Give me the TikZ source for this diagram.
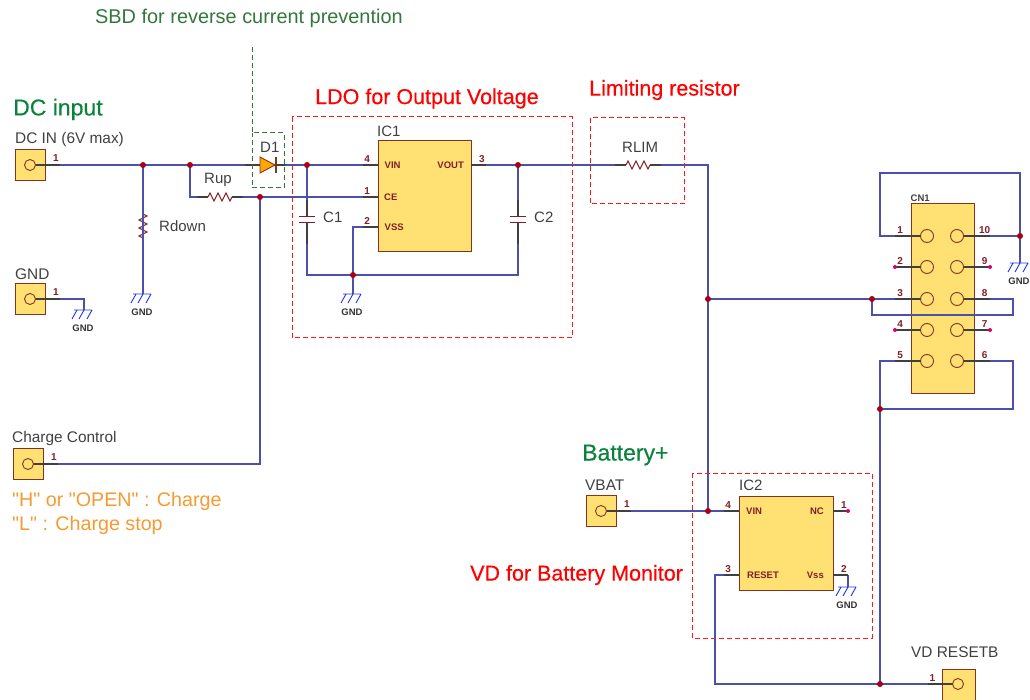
\documentclass[tikz,border=0pt]{standalone}
\usepackage{fontspec}
\setmainfont{Liberation Sans}
\newfontfamily\notefont{Liberation Sans}
\newfontfamily\titlefont[FakeBold=0.35]{Liberation Sans}
\usetikzlibrary{calc}
\definecolor{wireblue}{RGB}{75,80,170}
\definecolor{gndblue}{RGB}{30,50,240}
\definecolor{partfill}{RGB}{255,225,115}
\definecolor{partedge}{RGB}{135,50,30}
\definecolor{dotred}{RGB}{170,0,20}
\definecolor{pinred}{RGB}{130,30,40}
\definecolor{nopin}{RGB}{215,0,110}
\definecolor{titlegreen}{RGB}{10,130,60}
\definecolor{notegreen}{RGB}{50,120,60}
\definecolor{noteorange}{RGB}{245,155,50}
\newcommand{\fs}[1]{\fontsize{#1}{#1}\selectfont}
\tikzset{
  gndpic/.pic={
    \coordinate (-top) at (0,0);
    \draw[gndblue,line width=.9pt] (-10,0) -- (8,0) (-7,0) -- (-12,9) (0,0) -- (-5,9) (8,0) -- (3,9);
    \node[gndtext] (-lbl) at (-1,18) {GND};
  },
  respic/.pic={
    \coordinate (-a) at (-23,0);
    \coordinate (-b) at (23,0);
    \draw[stub] (-23,0) -- (-12,0) (12,0) -- (23,0);
    \draw[pinred,line width=1pt] (-12,0) -- (-10,-4) -- (-6,4) -- (-2,-4) -- (2,4) -- (6,-4) -- (10,4) -- (12,0);
  },
  cappic/.pic={
    \coordinate (-a) at (0,-20);
    \coordinate (-b) at (0,24);
    \draw[stub] (0,-20) -- (0,-3) (0,3) -- (0,24);
    \draw[pinred,line width=1pt] (-8,-3) -- (8,-3) (-8,3) -- (8,3);
  },
  portpic/.pic={
    \coordinate (-end) at (30,0);
    \draw[part] (-15,-15.5) rectangle (15,15.5);
    \draw[partedge,line width=.9pt] (0,0) circle (5.5);
    \draw[stub] (5.5,0) -- (30,0);
    \node[pinnum] (-num) at (26,-7) {1};
  },
}
\begin{document}
\begin{tikzpicture}[x=1pt,y=-1pt,font=\fs{15.4},text=black!75]
  \tikzstyle{wire}=[wireblue,line width=1.1pt]
  \tikzstyle{stub}=[black!75,line width=1.1pt]
  \tikzstyle{part}=[draw=partedge,fill=partfill,line width=1pt]
  \tikzstyle{pinnum}=[text=pinred,font=\fs{10}\bfseries,inner sep=0pt]
  \tikzstyle{pinname}=[text=pinred,font=\fs{9.5}\bfseries,inner sep=0pt]
  \tikzstyle{gndtext}=[text=black!80,font=\fs{9.5}\bfseries,inner sep=0pt]
  \tikzstyle{lbl}=[anchor=west,inner sep=0pt]
  \tikzstyle{reddash}=[draw=red!90,line width=1pt,dash pattern=on 5pt off 3pt]
  \tikzstyle{greendash}=[draw=notegreen,line width=1pt,dash pattern=on 5pt off 3pt]
  \tikzstyle{redtitle}=[lbl,text=red,font=\fs{21.5}\titlefont]
  \tikzstyle{greentitle}=[lbl,text=titlegreen,font=\fs{23}\titlefont]

  \useasboundingbox (0,0) rectangle (1030,700);

  % parts
  \pic (dcin) at (30,165) {portpic};
  \pic (gndin) at (30,299) {portpic};
  \pic (chg) at (28,464) {portpic};
  \pic (vbat) at (601,511) {portpic};
  \draw[part] (942,669) rectangle (975,700);
  \draw[partedge,line width=.9pt] (958,684) circle (5.5);
  \node[part,minimum width=93pt,minimum height=111pt,inner sep=0pt] (ic1) at (424.5,196.5) {};
  \node[part,minimum width=94pt,minimum height=94pt,inner sep=0pt] (ic2) at (786,543) {};
  \node[part,minimum width=63pt,minimum height=189pt,inner sep=0pt] (cn1) at (942.5,298.5) {};

  \pic (rup) at (220,197) {respic};
  \pic[rotate=90] (rdown) at (143,226) {respic};
  \pic (rlim) at (638,165) {respic};
  \pic (c1) at (307,220) {cappic};
  \pic (c2) at (518,220) {cappic};
  \pic (g1) at (84,310) {gndpic};
  \pic (g2) at (143,294) {gndpic};
  \pic (g3) at (353,294) {gndpic};
  \pic (g4) at (848,587) {gndpic};
  \pic (g5) at (1020,263) {gndpic};

  % junctions and bends
  \coordinate (j1) at (143,165);
  \coordinate (j2) at (190,165);
  \coordinate (j3) at (260,197);
  \coordinate (j4) at (307,165);
  \coordinate (j5) at (353,275);
  \coordinate (j6) at (518,165);
  \coordinate (j7) at (708,299);
  \coordinate (j8) at (708,511);
  \coordinate (j9) at (872,299);
  \coordinate (j10) at (880,409);
  \coordinate (j11) at (880,684);
  \coordinate (j12) at (1020,236);
  \coordinate (d1a) at (245,165);
  \coordinate (d1b) at (285,165);
  \coordinate (vin1) at (363,165);
  \coordinate (ce1) at (363,197);
  \coordinate (vss1) at (363,227);
  \coordinate (vout1) at (486,165);
  \coordinate (vin2) at (724,511);
  \coordinate (vss2) at (848,575);
  \coordinate (rst2) at (724,575);
  \coordinate (rstport) at (928,684);
  \coordinate (p1) at (896,236);
  \coordinate (p3) at (896,299);
  \coordinate (p5) at (896,361);
  \coordinate (p6) at (990,361);
  \coordinate (p8) at (990,299);
  \coordinate (p10) at (990,236);

  % wires
  \draw[wire] (dcin-end) -- (d1a);
  \draw[wire] (d1b) -- (vin1);
  \draw[wire] (j1) -- (rdown-a);
  \draw[wire] (rdown-b) -- (g2-top);
  \draw[wire] (j2) |- (rup-a);
  \draw[wire] (rup-b) -- (ce1);
  \draw[wire] (j3) |- (chg-end);
  \draw[wire] (gndin-end) -| (g1-top);
  \draw[wire] (j4) -- (c1-a);
  \draw[wire] (c1-b) |- (j5);
  \draw[wire] (vss1) -| (g3-top);
  \draw[wire] (j5) -| (c2-b);
  \draw[wire] (j6) -- (c2-a);
  \draw[wire] (vout1) -- (rlim-a);
  \draw[wire] (rlim-b) -| (j8);
  \draw[wire] (vbat-end) -- (vin2);
  \draw[wire] (j7) -- (p3);
  \draw[wire] (p8) -- (1013,299) -- (1013,315) -| (j9);
  \draw[wire] (p1) -| (880,173) -| (j12);
  \draw[wire] (p10) -- (j12) -- (g5-top);
  \draw[wire] (p5) -| (j11);
  \draw[wire] (p6) -- (1013,361) |- (j10);
  \draw[wire] (rst2) -| (715,684) -- (rstport);
  \draw[wire] (vss2) -- (g4-top);

  % pin stubs on the parts
  \foreach \xa/\xb/\yy/\num in {378/363/165/4,378/363/197/1,378/363/227/2,471/486/165/3,
                                739/724/511/4,833/848/511/1,739/724/575/3,833/848/575/2}
    \draw[stub] (\xa,\yy) -- (\xb,\yy) node[pinnum,pos=.72,above=1.5pt] {\num};
  \draw[stub] (952.5,684) -- (928,684) node[pinnum,pos=.82,above=1.5pt] {1};
  \foreach \yy/\ln/\rn in {236/1/10,267/2/9,299/3/8,330/4/7,361/5/6} {
    \draw[partedge,line width=.9pt] (927,\yy) circle (6.5) (957,\yy) circle (6.5);
    \draw[stub] (920.5,\yy) -- (895,\yy) node[pinnum,pos=.8,above=1.5pt] {\ln};
    \draw[stub] (963.5,\yy) -- (990,\yy) node[pinnum,pos=.8,above=1.5pt] {\rn};
  }
  \foreach \px/\py in {895/267,895/330,990/267,990/330,848/511}
    \fill[nopin] (\px,\py) circle (2);
  \foreach \j in {j1,j2,j3,j4,j5,j6,j7,j8,j9,j10,j11,j12}
    \fill[dotred] (\j) circle (3);

  % diode
  \draw[stub] (d1a) -- (d1b);
  \draw[draw=partedge,fill=orange!70!yellow,line width=.9pt] (260,157) -- (260,173) -- (275,165) -- cycle;
  \draw[partedge,line width=1.1pt] (276,157) -- (276,173);

  % pin names
  \node[pinname,anchor=west] (n1) at (384.5,165) {VIN};
  \node[pinname,anchor=west] (n2) at (384,197) {CE};
  \node[pinname,anchor=west] (n3) at (384.5,227) {VSS};
  \node[pinname,anchor=east] (n4) at (464,165) {VOUT};
  \node[pinname,anchor=west] (n5) at (746,511) {VIN};
  \node[pinname,anchor=east] (n6) at (824,511) {NC};
  \node[pinname,anchor=west] (n7) at (747,575) {RESET};
  \node[pinname,anchor=east] (n8) at (824,575) {Vss};

  % labelled boxes
  \draw[reddash] (292,117) rectangle (572,338);
  \draw[reddash] (590,118) rectangle (684,204);
  \draw[reddash] (692,473) rectangle (872,638);
  \draw[greendash] (252,47) -- (252,133) -- (284,133) -- (284,188) -- (252,188) -- (252,133);

  % labels
  \node[lbl,text=notegreen,font=\fs{19.9}] (sbd) at (95,18) {SBD for reverse current prevention};
  \node[greentitle] (dctitle) at (13,109.5) {DC input};
  \node[lbl] (dclbl) at (15,140) {DC IN (6V max)};
  \node[lbl] (gndlbl) at (15,274) {GND};
  \node[lbl] (chglbl) at (12,439) {Charge Control};
  \node[lbl,font=\fs{15}] (rdlbl) at (159,226.5) {Rdown};
  \node[lbl,font=\fs{15}] (rulbl) at (204,180) {Rup};
  \node[lbl,font=\fs{15}] (d1lbl) at (260,147.5) {D1};
  \node[lbl,font=\fs{15}] (c1lbl) at (323,217.5) {C1};
  \node[lbl,font=\fs{15}] (c2lbl) at (534,217.5) {C2};
  \node[lbl,font=\fs{15}] (ic1lbl) at (377,131.5) {IC1};
  \node[lbl,font=\fs{15}] (ic2lbl) at (739,485.5) {IC2};
  \node[lbl,font=\fs{15}] (rllbl) at (622,147.5) {RLIM};
  \node[lbl] (vblbl) at (585,485.5) {VBAT};
  \node[lbl] (vrlbl) at (911,652.5) {VD RESETB};
  \node[lbl,font=\fs{9.5}\bfseries] (cnlbl) at (910.5,198) {CN1};
  \node[redtitle] (ldo) at (315,98.5) {LDO for Output Voltage};
  \node[redtitle] (lim) at (589,90) {Limiting resistor};
  \node[redtitle] (vd) at (470,575) {VD for Battery Monitor};
  \node[greentitle] (batt) at (582,455) {Battery+};
  \node[lbl,text=noteorange,font=\fs{19.7}\notefont] (h) at (12,501) {"H" or "OPEN" : Charge};
  \node[lbl,text=noteorange,font=\fs{19.7}\notefont] (l) at (12,525) {"L" : Charge stop};
\end{tikzpicture}
\end{document}
